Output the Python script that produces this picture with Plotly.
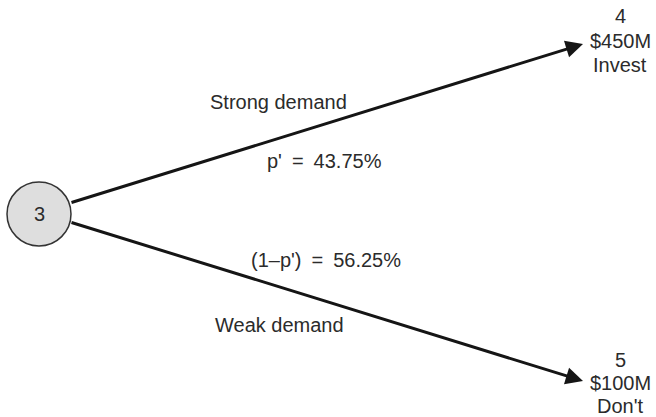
import plotly.graph_objects as go

# ---- data ----
root_node = "3"
outcome_nodes = ["4", "5"]
outcome_values = ["$450M", "$100M"]
outcome_actions = ["Invest", "Don't"]
branch_names = ["Strong demand", "Weak demand"]
branch_prob_labels = ["p'", "(1\u2013p')"]
branch_probs = [43.75, 56.25]

# ---- layout (pixel-space) ----
W, H = 656, 417
root_xy = (39, 214)
root_r = 32
starts = [(70, 203), (70, 222)]
tips = [(583, 44), (583, 381)]
outcome_x = 620
outcome_line_y = [[15, 40, 64], [359, 382, 405]]
name_xy = [(278, 102), (279, 325)]
prob_xy = [(324, 161), (326, 260)]

FONT = "Liberation Sans, Arial, sans-serif"
TXT = "#2b2b2b"
LINE = "#151515"
FS = 20
SP = "\u2002"

fig = go.Figure()
fig.add_trace(go.Scatter(x=[0, W], y=[0, H], mode="markers",
                         marker=dict(opacity=0), hoverinfo="skip", showlegend=False))

ann = []
for (sx, sy), (tx, ty) in zip(starts, tips):
    ann.append(dict(x=tx, y=ty, ax=sx, ay=sy, xref="x", yref="y", axref="x", ayref="y",
                    showarrow=True, arrowhead=2, arrowsize=1.15, arrowwidth=3,
                    arrowcolor=LINE, text=""))

for i in range(2):
    lines = [outcome_nodes[i], outcome_values[i], outcome_actions[i]]
    for txt, ly in zip(lines, outcome_line_y[i]):
        ann.append(dict(x=outcome_x, y=ly + 1, xref="x", yref="y", showarrow=False,
                        text=txt, font=dict(family=FONT, size=FS, color=TXT)))
    nx, ny = name_xy[i]
    ann.append(dict(x=nx, y=ny, xref="x", yref="y", showarrow=False,
                    text=branch_names[i], font=dict(family=FONT, size=FS, color=TXT)))
    px, py = prob_xy[i]
    ann.append(dict(x=px, y=py, xref="x", yref="y", showarrow=False,
                    text=f"{branch_prob_labels[i]}{SP}={SP}{branch_probs[i]:.2f}%",
                    font=dict(family=FONT, size=FS, color=TXT)))

ann.append(dict(x=root_xy[0], y=root_xy[1], xref="x", yref="y", showarrow=False,
                text=root_node, font=dict(family=FONT, size=FS, color=TXT)))

fig.update_layout(
    width=W, height=H,
    margin=dict(l=0, r=0, t=0, b=0),
    paper_bgcolor="white", plot_bgcolor="white",
    xaxis=dict(range=[0, W], visible=False, fixedrange=True),
    yaxis=dict(range=[H, 0], visible=False, fixedrange=True),
    showlegend=False,
    annotations=ann,
    shapes=[dict(type="circle", xref="x", yref="y",
                 x0=root_xy[0] - root_r, x1=root_xy[0] + root_r,
                 y0=root_xy[1] - root_r, y1=root_xy[1] + root_r,
                 fillcolor="#dedede", line=dict(color="#333333", width=1.5),
                 layer="above")],
)

fig.write_html("out.html", config=dict(displayModeBar=False),
               post_script="document.body.style.margin='0';document.body.style.overflow='hidden';")
